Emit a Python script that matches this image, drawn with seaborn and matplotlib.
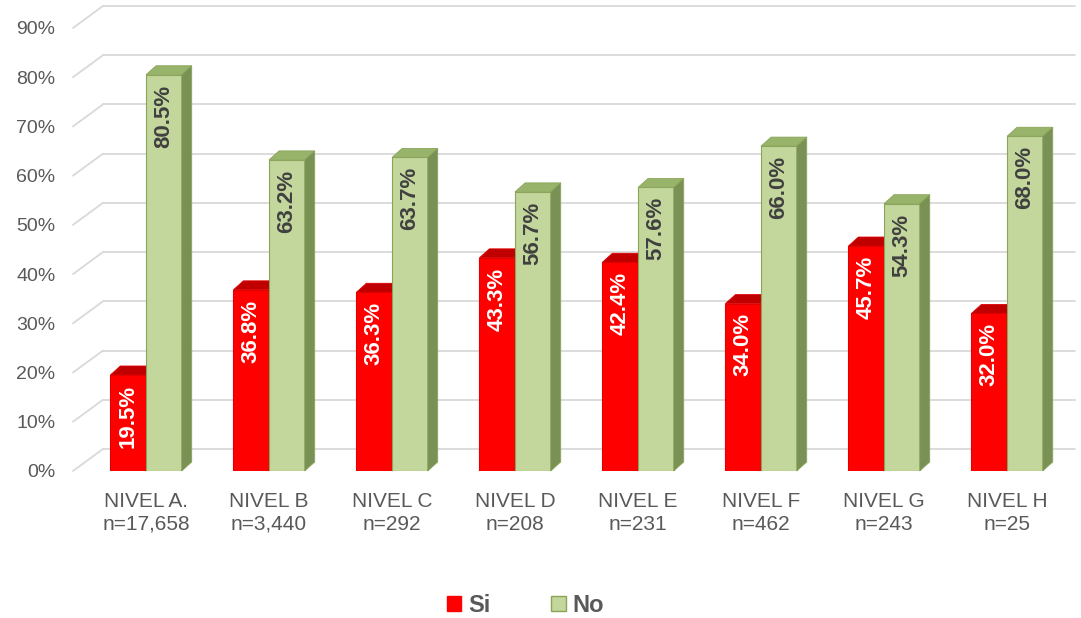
import matplotlib
matplotlib.use("Agg")
import matplotlib.pyplot as plt
import matplotlib.transforms as mtransforms
from matplotlib.patches import Polygon, Patch
import pandas as pd
import seaborn as sns

niveles  = ["NIVEL A.", "NIVEL B", "NIVEL C", "NIVEL D", "NIVEL E", "NIVEL F", "NIVEL G", "NIVEL H"]
n_labels = ["n=17,658", "n=3,440", "n=292", "n=208", "n=231", "n=462", "n=243", "n=25"]
si_vals  = [0.195, 0.368, 0.363, 0.433, 0.424, 0.340, 0.457, 0.320]
no_vals  = [0.805, 0.632, 0.637, 0.567, 0.576, 0.660, 0.543, 0.680]
series   = ["Si", "No"]

# front, top, side colours for the fake 3-D bars
colors = {
    "Si": ("#FF0000", "#C00000", "#A00000"),
    "No": ("#C3D69B", "#98B46A", "#7A9155"),
}
edge = {"Si": "#E00000", "No": "#8AA55A"}
label_color = {"Si": "white", "No": "#404040"}

DPI = 100
BAR_DX, BAR_DY = 10, 9      # depth of the bars, pixels
WALL_DX, WALL_DY = 30, 22   # depth of the back wall, pixels


def main():
    sns.set_theme(style="white")
    plt.rcParams["font.family"] = ["Liberation Sans", "DejaVu Sans"]

    df = pd.DataFrame({
        "nivel": niveles * 2,
        "serie": ["Si"] * len(niveles) + ["No"] * len(niveles),
        "valor": si_vals + no_vals,
    })

    fig = plt.figure(figsize=(10.81, 6.18), dpi=DPI)
    ax = fig.add_axes([0.0782, 0.2379, 0.9103, 0.7168])

    sns.barplot(data=df, x="nivel", y="valor", hue="serie", order=niveles,
                hue_order=series, palette={k: v[0] for k, v in colors.items()},
                width=0.58, saturation=1, legend=False, ax=ax)

    ax.set_xlim(-0.5, 7.5)
    ax.set_ylim(0, 0.9)
    for s in ax.spines.values():
        s.set_visible(False)
    ax.grid(False)

    # back wall gridlines plus the little diagonal stubs on the left wall
    back = mtransforms.offset_copy(ax.transData, fig=fig, x=WALL_DX, y=WALL_DY, units="dots")
    x_left, x_right = -0.594, 7.31
    yticks = [i / 10 for i in range(10)]
    for v in yticks:
        ax.plot([x_left, x_right], [v, v], color="#D9D9D9", lw=1.3,
                transform=back, clip_on=False, zorder=0)
        p0 = ax.transData.transform((x_left, v))
        p1 = back.transform((x_left, v))
        ax.plot([p0[0], p1[0]], [p0[1], p1[1]], color="#D9D9D9", lw=1.3,
                transform=mtransforms.IdentityTransform(), clip_on=False, zorder=0)

    # give each bar a top and a side face
    ident = mtransforms.IdentityTransform()
    for serie, cont in zip(series, ax.containers):
        front, top, side = colors[serie]
        for i, bar in enumerate(cont.patches):
            z = 2 + i * 2 + (1 if serie == "No" else 0)
            bar.set_zorder(z)
            bar.set_edgecolor(edge[serie])
            bar.set_linewidth(0.8)
            x0, w, h = bar.get_x(), bar.get_width(), bar.get_height()
            bl = ax.transData.transform((x0, 0))
            tl = ax.transData.transform((x0, h))
            tr = ax.transData.transform((x0 + w, h))
            br = ax.transData.transform((x0 + w, 0))
            d = (BAR_DX, BAR_DY)
            top_face = [tl, tr, tr + d, tl + d]
            side_face = [br, tr, tr + d, br + d]
            ax.add_patch(Polygon(top_face, closed=True, facecolor=top, edgecolor=edge[serie],
                                 lw=0.6, transform=ident, clip_on=False, zorder=z))
            ax.add_patch(Polygon(side_face, closed=True, facecolor=side, edgecolor=edge[serie],
                                 lw=0.6, transform=ident, clip_on=False, zorder=z))
            ax.annotate(f"{h * 100:.1f}%", (x0 + w / 2, h), xytext=(0, -7),
                        textcoords="offset points", rotation=90, ha="center", va="top",
                        fontsize=16, fontweight="bold", color=label_color[serie],
                        zorder=z + 0.5, annotation_clip=False)

    ax.set_yticks(yticks)
    ax.set_yticklabels([f"{int(round(v * 100))}%" for v in yticks], fontsize=14, color="#595959")
    ax.set_xticks(range(len(niveles)))
    ax.set_xticklabels([f"{a}\n{b}" for a, b in zip(niveles, n_labels)],
                       fontsize=15, color="#595959", linespacing=1.25)
    ax.tick_params(axis="y", length=0, pad=21)
    ax.tick_params(axis="x", length=0, pad=15)
    ax.set_xlabel("")
    ax.set_ylabel("")

    handles = [Patch(facecolor=colors["Si"][0], edgecolor=colors["Si"][0]),
               Patch(facecolor=colors["No"][0], edgecolor="#8AA55A")]
    leg = fig.legend(handles, series, loc="center", bbox_to_anchor=(0.486, 0.021),
                     ncol=2, frameon=False, handlelength=0.6, handleheight=0.6,
                     handletextpad=0.3, columnspacing=2.6,
                     prop={"size": 17, "weight": "bold"})
    for t in leg.get_texts():
        t.set_color("#595959")

    fig.savefig("out.png", dpi=DPI)


if __name__ == "__main__":
    main()
